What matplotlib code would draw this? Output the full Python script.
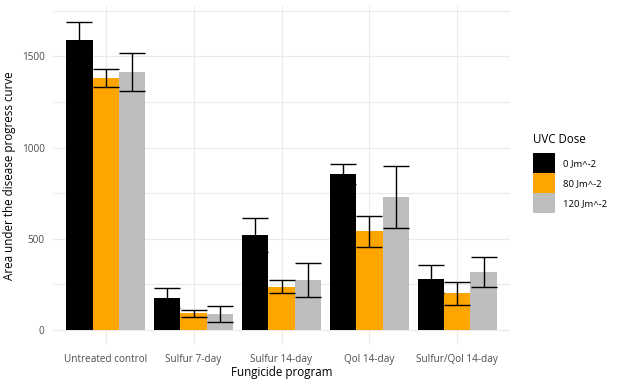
import numpy as np
import matplotlib.pyplot as plt
from matplotlib.patches import Patch

# data
programs = ['Untreated control', 'Sulfur 7-day', 'Sulfur 14-day', 'Qol 14-day', 'Sulfur/Qol 14-day']
doses = ['0 Jm^-2', '80 Jm^-2', '120 Jm^-2']
mean_0 = [1589, 175, 520, 855, 279]
mean_80 = [1381, 92, 236, 540, 200]
mean_120 = [1415, 88, 274, 728, 318]
err_0 = [97, 53, 92, 56, 75]
err_80 = [49, 19, 36, 87, 61]
err_120 = [104, 45, 92, 171, 80]
colors = ['#000000', '#FFA500', '#BEBEBE']

plt.rcParams['font.family'] = ['Open Sans', 'DejaVu Sans']

fig = plt.figure(figsize=(6.24, 3.84), dpi=100)
W, H = 624, 384
ax = fig.add_axes([53 / W, (H - 345.4) / H, (510 - 53) / W, (345.4 - 6.2) / H])

x = np.arange(1, len(programs) + 1)
bw = 0.3
means = [mean_0, mean_80, mean_120]
errs = [err_0, err_80, err_120]
for i in range(3):
    xs = x + (i - 1) * bw
    ax.bar(xs, means[i], width=bw, color=colors[i], zorder=2)
    ax.errorbar(xs, means[i], yerr=errs[i], fmt='none', ecolor='black',
                elinewidth=1, capsize=9.4, capthick=1, zorder=3)

ax.set_xlim(0.4, 5.6)
ax.set_ylim(-84.5, 1774.5)
ax.set_xticks(x)
ax.set_xticklabels(programs)
ax.set_yticks([0, 500, 1000, 1500])
ax.set_yticks([250, 750, 1250, 1750], minor=True)
ax.grid(True, which='both', color='#EBEBEB', linewidth=0.8, zorder=0)
ax.set_axisbelow(True)
for s in ax.spines.values():
    s.set_visible(False)
ax.tick_params(which='both', length=0, labelsize=7.2, labelcolor='#4D4D4D', pad=6)
ax.set_xlabel('Fungicide program', fontsize=8.4, labelpad=1)
ax.set_ylabel('Area under the disease progress curve', fontsize=8.4, labelpad=4)

handles = [Patch(facecolor=c, edgecolor='none') for c in colors]
leg = fig.legend(handles, doses, title='UVC Dose', loc='upper left',
                 bbox_to_anchor=(531 / W, 1 - 131 / H), frameon=False,
                 fontsize=6.8, title_fontsize=8.3, handlelength=2.3, handleheight=2.9,
                 labelspacing=0.0, handletextpad=0.9, borderaxespad=0, borderpad=0.2)
leg._legend_box.align = 'left'
leg._legend_box.sep = 5

fig.savefig('out.png', dpi=100)
